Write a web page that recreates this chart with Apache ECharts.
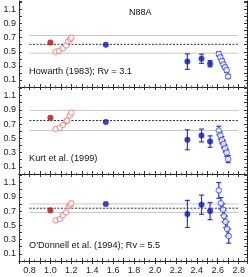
<!DOCTYPE html>
<html><head><meta charset="utf-8">
<script src="https://cdn.jsdelivr.net/npm/echarts@6/dist/echarts.min.js"></script>
<style>html,body{margin:0;padding:0;background:#fff}#c{width:252px;height:277px}</style>
</head><body><div id="c"></div>
<script>
const xTickLabels = [0.8,1.0,1.2,1.4,1.6,1.8,2.0,2.2,2.4,2.6,2.8];
const yTickLabels = [0.1,0.3,0.5,0.7,0.9,1.1];
const panelTitles = ["Howarth (1983); Rv = 3.1","Kurt et al. (1999)","O'Donnell et al. (1994); Rv = 5.5"];
const regionName = "N88A";
const lineRange = [0.8, 2.8];
const meanVals = [0.605, 0.75, 0.74];
const spreadVals = [0.125, 0.14, 0.06];

const redFilled = [[[1.0,0.63]],[[1.0,0.79]],[[1.0,0.71]]];
const redOpen = [
 [[1.05,0.50],[1.08,0.51],[1.12,0.55],[1.15,0.59],[1.17,0.65],[1.19,0.68],[1.20,0.70]],
 [[1.05,0.63],[1.09,0.65],[1.12,0.69],[1.15,0.74],[1.16,0.75],[1.185,0.82],[1.20,0.86]],
 [[1.05,0.57],[1.09,0.59],[1.12,0.64],[1.15,0.68],[1.18,0.77],[1.19,0.79],[1.20,0.81]]
];
const blueFilled = [[[1.53,0.60]],[[1.53,0.73]],[[1.53,0.80]]];
// [x, y, error]
const blueErr = [
 [[2.31,0.36,0.11],[2.445,0.40,0.066],[2.527,0.33,0.045]],
 [[2.31,0.48,0.14],[2.445,0.54,0.09],[2.527,0.455,0.08]],
 [[2.31,0.66,0.19],[2.445,0.79,0.135],[2.527,0.70,0.12]]
];
const blueOpenErr = [
 [[2.61,0.47,0.03],[2.625,0.42,0.03],[2.64,0.37,0.03],[2.655,0.32,0.03],[2.67,0.28,0.03],[2.685,0.24,0.03],[2.70,0.15,0.03]],
 [[2.61,0.61,0.06],[2.625,0.54,0.05],[2.64,0.475,0.05],[2.655,0.42,0.05],[2.67,0.36,0.05],[2.685,0.30,0.05],[2.70,0.21,0.05]],
 [[2.61,0.99,0.11],[2.63,0.81,0.08],[2.65,0.72,0.08],[2.66,0.63,0.08],[2.675,0.55,0.08],[2.69,0.45,0.10],[2.705,0.35,0.10]]
];

const FONT = 'Liberation Sans, Arial, sans-serif';
const BLUE = '#0b14c8', EBLUE = '#2a3ae0', RED = '#c80000', LRED = '#f06a6a';
const grids = [{top:1,height:86},{top:87,height:87},{top:174,height:87}];

function errRender(color){
  return function(params, api){
    const x = api.value(0), y = api.value(1), e = api.value(2);
    const lo = api.coord([x, y-e]), hi = api.coord([x, y+e]);
    const w = 2.5, st = {stroke: color, lineWidth: 1.2};
    return {type:'group', children:[
      {type:'line', shape:{x1:lo[0],y1:lo[1],x2:hi[0],y2:hi[1]}, style:st},
      {type:'line', shape:{x1:lo[0]-w,y1:lo[1],x2:lo[0]+w,y2:lo[1]}, style:st},
      {type:'line', shape:{x1:hi[0]-w,y1:hi[1],x2:hi[0]+w,y2:hi[1]}, style:st}
    ]};
  };
}

const option = {animation:false, grid:[], xAxis:[], yAxis:[], series:[], graphic:[]};
const axisLineStyle = {show:true, lineStyle:{color:'#222', width:1}};
grids.forEach((g,i)=>{
  option.grid.push({left:19, right:5, top:g.top, height:g.height, containLabel:false, outerBoundsMode:'none'});
  const isLast = i===grids.length-1;
  ['bottom','top'].forEach(pos=>{
    option.xAxis.push({type:'value', gridIndex:i, position:pos, min:0.7, max:2.88, interval:0.1,
      axisLine:axisLineStyle, splitLine:{show:false},
      axisTick:{show:true, inside:true, length:3, lineStyle:{color:'#333'}},
      minorTick:{show:true, splitNumber:2, length:1.5, lineStyle:{color:'#555'}},
      axisLabel:{show: isLast && pos==='bottom', fontSize:9, color:'#222', fontFamily:FONT, margin:5,
        formatter: v => xTickLabels.some(t=>Math.abs(t-v)<1e-6) ? v.toFixed(1) : ''},
      name: (isLast && pos==='bottom') ? '1/\u03bb (\u03bcm\u207b\u00b9)' : '',
      nameLocation:'middle', nameGap:17, nameTextStyle:{fontSize:9, color:'#222', fontFamily:FONT}
    });
  });
  ['left','right'].forEach(pos=>{
    option.yAxis.push({type:'value', gridIndex:i, position:pos, min:0, max:1.22, interval:0.1,
      axisLine:axisLineStyle, splitLine:{show:false},
      axisTick:{show:true, inside:true, length:3, lineStyle:{color:'#333'}},
      minorTick:{show:true, splitNumber:2, length:1.5, lineStyle:{color:'#555'}},
      axisLabel:{show: pos==='left', fontSize:9, color:'#222', fontFamily:FONT, margin:3,
        formatter: v => yTickLabels.some(t=>Math.abs(t-v)<1e-6) ? v.toFixed(1) : ''},
      name: (i===1 && pos==='left') ? 'c(\u03bb)' : '',
      nameLocation:'middle', nameGap:17, nameTextStyle:{fontSize:10, color:'#555', fontFamily:FONT}
    });
  });
  const xi = i*2, yi = i*2;
  const m = meanVals[i], s = spreadVals[i];
  const mk = (val, style) => ({type:'line', xAxisIndex:xi, yAxisIndex:yi, symbol:'none', silent:true, z:1,
     data:[[lineRange[0], val],[lineRange[1], val]], lineStyle:style});
  option.series.push(mk(m+s, {color:'#c8c8c8', width:1}));
  option.series.push(mk(m-s, {color:'#c8c8c8', width:1}));
  option.series.push(mk(m, {color:'#333', width:1, type:[2,1.5]}));
  option.series.push({type:'scatter', xAxisIndex:xi, yAxisIndex:yi, data:redFilled[i], symbolSize:6, itemStyle:{color:RED}, z:5});
  option.series.push({type:'scatter', xAxisIndex:xi, yAxisIndex:yi, data:redOpen[i], symbolSize:5.5,
    itemStyle:{color:'#fff', borderColor:LRED, borderWidth:1}, z:5});
  option.series.push({type:'scatter', xAxisIndex:xi, yAxisIndex:yi, data:blueFilled[i], symbolSize:6, itemStyle:{color:BLUE}, z:5});
  option.series.push({type:'custom', xAxisIndex:xi, yAxisIndex:yi, data:blueErr[i], renderItem:errRender(EBLUE), encode:{x:0,y:1}, z:4});
  option.series.push({type:'scatter', xAxisIndex:xi, yAxisIndex:yi, data:blueErr[i].map(d=>[d[0],d[1]]), symbolSize:6, itemStyle:{color:BLUE}, z:5});
  option.series.push({type:'custom', xAxisIndex:xi, yAxisIndex:yi, data:blueOpenErr[i], renderItem:errRender(EBLUE), encode:{x:0,y:1}, z:4});
  option.series.push({type:'scatter', xAxisIndex:xi, yAxisIndex:yi, data:blueOpenErr[i].map(d=>[d[0],d[1]]), symbolSize:5.5,
    itemStyle:{color:'#fff', borderColor:EBLUE, borderWidth:1}, z:5});
  option.graphic.push({type:'text', left:29, top:g.top+g.height-20, style:{text:panelTitles[i], fontSize:9.2, fill:'#111', fontFamily:FONT}});
});
option.graphic.push({type:'text', left:129, top:8, style:{text:regionName, fontSize:9, fill:'#111', fontFamily:FONT}});
const chart = echarts.init(document.getElementById('c'), null, {renderer:'canvas'});
chart.setOption(option);
</script></body></html>
